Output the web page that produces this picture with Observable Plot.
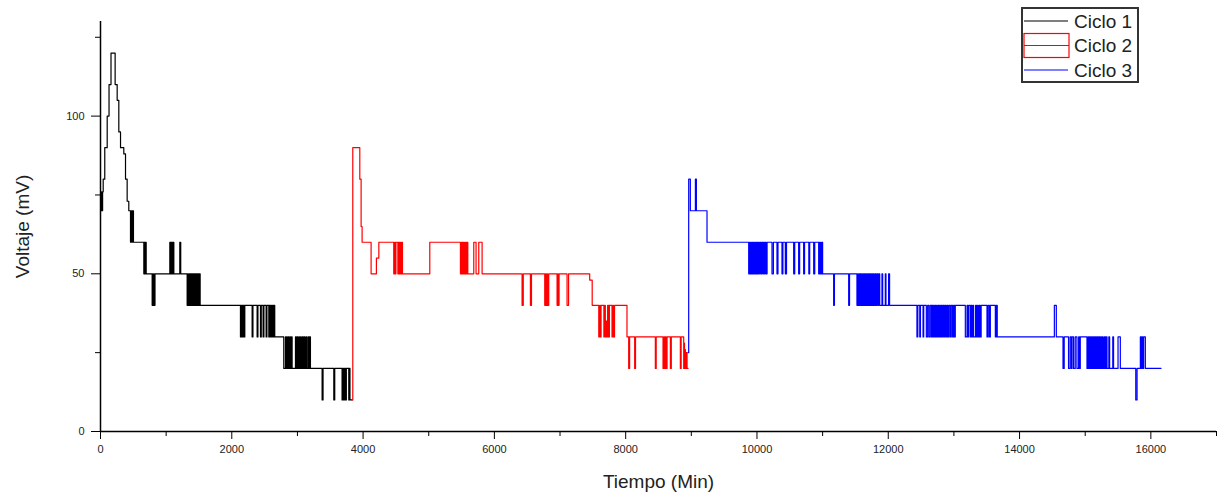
<!DOCTYPE html>
<html><head><meta charset="utf-8">
<script src="https://cdn.jsdelivr.net/npm/d3@7"></script>
<script src="https://cdn.jsdelivr.net/npm/@observablehq/plot@0.6"></script>
<style>
body{margin:0;background:#fff;font-family:"Liberation Sans",Arial,sans-serif;}
#wrap{position:relative;width:1220px;height:500px;}
#legend{position:absolute;left:1021px;top:7px;}
</style></head><body><div id="wrap"><div id="legend"></div></div>
<script>
// Series names and colours
const seriesNames = ["Ciclo 1", "Ciclo 2", "Ciclo 3"];
const seriesColors = ["#000000", "#ff0000", "#0000ff"];

// Axis ticks
const xTicks = [0, 2000, 4000, 6000, 8000, 10000, 12000, 14000, 16000];
const xMinor = [1000, 3000, 5000, 7000, 9000, 11000, 13000, 15000, 17000];
const yTicks = [0, 50, 100];
const yMinor = [25, 75, 125];

// [tiempo (min), voltaje (mV)] change points (step-after)
const ciclo1 = [
[0,75],[8,70],[16,76],[24,70],[32,76],[41,80],[65,90],[102,100],[130,110],[160,120],[223,110],[254,105],[279,95],[305,90],[355,88],[381,80],[406,73],[431,70],[457,60],[465,70],[472,60],[480,70],[488,60],[495,70],[502,60],
[660,50],[666,60],[672,50],[678,60],[684,50],[690,60],[696,50],
[787,40],[796,50],[802,40],[812,50],[818,40],[830,50],
[1056,60],[1065,50],[1072,60],[1085,50],[1095,60],[1105,50],[1110,60],[1117,50],
[1208,60],[1222,50],
[1320,40],[1330,50],[1340,40],[1350,50],[1358,40],[1366,50],[1374,40],[1382,50],[1390,40],[1398,50],[1406,40],[1414,50],[1422,40],[1430,50],[1438,40],[1446,50],[1454,40],[1462,50],[1470,40],[1478,50],[1486,40],[1494,50],[1502,40],[1510,50],[1518,40],
[2132,30],[2140,40],[2146,30],[2154,40],[2160,30],[2168,40],[2175,30],[2183,40],[2190,30],[2198,40],
[2310,30],[2322,40],[2386,30],[2398,40],[2437,30],[2449,40],[2477,30],[2489,40],[2523,30],[2535,40],[2564,30],[2574,40],[2582,30],[2592,40],[2600,30],[2610,40],[2618,30],[2628,40],[2636,30],[2646,40],[2654,30],
[2792,20],[2818,30],[2826,20],[2838,30],[2846,20],[2862,30],[2870,20],[2886,30],[2894,20],[2910,30],[2919,20],[2970,30],[2982,20],[2995,30],[3005,20],[3022,30],[3032,20],[3048,30],[3058,20],[3075,30],[3085,20],[3100,30],[3112,20],[3130,30],[3140,20],[3160,30],[3170,20],[3185,30],[3198,20],
[3376,10],[3390,20],[3554,10],[3568,20],[3680,10],[3690,20],[3698,10],[3708,20],[3716,10],[3726,20],[3735,10],[3745,20],[3782,10],[3790,20],[3800,10],[3833,10]
];

const ciclo2 = [
[3833,10],[3843,90],[3950,80],[3970,65],[3985,60],[4122,50],[4203,55],[4240,60],
[4467,50],[4480,60],[4490,50],[4500,60],[4530,50],[4540,60],[4548,50],[4556,60],[4564,50],[4572,60],[4580,50],[4590,60],[4600,50],
[5016,60],
[5483,50],[5492,60],[5500,50],[5508,60],[5516,50],[5524,60],[5532,50],[5545,60],[5555,50],[5565,60],[5575,50],[5585,60],[5595,50],
[5686,60],[5721,50],[5762,60],[5813,50],
[6422,40],[6440,50],[6549,40],[6565,50],[6767,40],[6780,50],[6790,40],[6800,50],[6810,40],[6828,50],[6955,40],[6965,50],[6972,40],[6985,50],[7107,40],[7130,50],
[7452,48],[7490,40],
[7590,30],[7605,40],[7612,30],[7625,40],[7668,30],[7680,40],[7690,30],[7700,35],[7712,30],[7725,40],[7740,30],[7752,40],[7792,30],[7805,40],[7815,30],[7830,40],
[8020,30],
[8046,20],[8060,30],[8137,20],[8150,30],[8452,20],[8465,30],[8569,20],[8580,30],[8590,20],[8600,30],[8615,20],[8630,30],[8681,20],[8695,30],[8833,20],[8845,30],[8884,20],[8890,28],[8896,20],[8902,26],[8910,20],[8920,25],[8935,20],[8950,20]
];

const ciclo3 = [
[8950,25],[8960,80],[8985,70],[9062,80],[9077,70],[9239,60],
[9874,50],[9885,60],[9895,50],[9905,60],[9915,50],[9925,60],[9935,50],[9945,60],[9955,50],[9965,60],[9975,50],[9985,60],[9995,50],[10005,60],[10015,50],[10025,60],[10040,50],[10050,60],[10065,50],[10075,60],[10090,50],[10100,60],[10115,50],[10125,60],[10140,50],[10154,60],
[10229,50],[10250,60],[10305,50],[10320,60],[10381,50],[10395,60],[10432,50],[10450,60],[10559,50],[10575,60],[10635,50],[10650,60],[10711,50],[10725,60],[10790,50],[10803,60],[10864,50],[10880,60],
[10940,50],[10950,60],[10960,50],[10970,60],[10980,50],[10990,60],[11000,50],
[11168,40],[11180,50],[11397,40],[11410,50],
[11523,40],[11533,50],[11543,40],[11553,50],[11563,40],[11573,50],[11583,40],[11593,50],[11603,40],[11613,50],[11623,40],[11633,50],[11643,40],[11653,50],[11663,40],[11673,50],[11683,40],[11693,50],[11703,40],[11713,50],[11723,40],[11733,50],[11743,40],[11753,50],[11763,40],[11773,50],[11783,40],[11798,50],[11810,40],[11825,50],[11840,40],[11855,50],[11870,40],
[11904,50],[11915,40],[11955,50],[11965,40],[12005,50],[12020,40],
[12437,30],[12450,40],[12480,30],[12490,40],[12530,30],[12540,40],[12580,30],[12600,40],[12620,30],[12640,40],[12660,30],[12670,40],[12680,30],[12690,40],[12700,30],[12712,40],[12724,30],[12736,40],[12748,30],[12760,40],[12772,30],[12784,40],[12796,30],[12808,40],[12820,30],[12832,40],[12850,30],[12862,40],[12880,30],[12895,40],[12910,30],[12925,40],[12945,30],[12960,40],[12980,30],[12995,40],[13010,30],[13021,40],
[13174,30],[13200,40],[13210,30],[13225,40],
[13250,30],[13265,40],[13275,30],[13290,40],[13300,30],[13330,40],[13345,30],[13360,40],[13370,30],[13385,40],[13400,30],[13415,40],
[13504,30],[13520,40],[13540,30],[13555,40],[13631,30],[13645,40],[13660,30],
[14530,40],[14560,30],
[14662,20],[14680,30],[14746,20],[14770,30],[14790,20],[14800,30],[14823,20],[14848,30],[14874,20],[14900,30],[14915,20],[14925,30],
[15027,20],[15040,30],[15052,20],[15065,30],[15078,20],[15090,30],[15100,20],[15112,30],[15125,20],[15138,30],[15150,20],[15160,30],[15172,20],[15185,30],[15198,20],[15210,30],[15222,20],[15235,30],[15248,20],[15260,30],[15272,20],[15290,30],[15305,20],[15320,30],[15332,20],[15360,30],[15372,20],[15420,30],[15432,20],[15500,30],[15535,20],
[15770,10],[15790,20],[15840,30],[15850,20],[15860,30],[15875,20],[15890,30],[15916,20],[16154,20]
];

const allSeries = [ciclo1, ciclo2, ciclo3];
const data = allSeries.flatMap((s, i) => s.map(([t, v]) => ({t, v, serie: seriesNames[i]})));

const font = '"Liberation Sans", Arial, sans-serif';

const chart = Plot.plot({
  width: 1220,
  height: 500,
  marginLeft: 100,
  marginRight: 4,
  marginTop: 21,
  marginBottom: 69,
  style: {fontFamily: font, background: "#fff", color: "#222"},
  x: {domain: [0, 17000]},
  y: {domain: [0, 130]},
  color: {domain: seriesNames, range: seriesColors},
  marks: [
    Plot.line(data, {x: "t", y: "v", z: "serie", stroke: "serie", curve: "step-after", strokeWidth: 1.2}),
    Plot.axisX({ticks: xTicks, tickSize: 8, tickPadding: 6, tickFormat: d => String(d), fontSize: 11, label: null, stroke: "#000"}),
    Plot.axisX({ticks: xMinor, tickSize: 5, tickFormat: () => "", label: null, stroke: "#000"}),
    Plot.axisY({ticks: yTicks, tickSize: 9, tickPadding: 7, tickFormat: d => String(d), fontSize: 11, label: null, stroke: "#000"}),
    Plot.axisY({ticks: yMinor, tickSize: 5, tickFormat: () => "", label: null, stroke: "#000"}),
    Plot.ruleY([0], {stroke: "#000", strokeWidth: 1.5}),
    Plot.ruleX([0], {stroke: "#000", strokeWidth: 1.5}),
    Plot.text(["Tiempo (Min)"], {frameAnchor: "bottom", dy: 56, fontSize: 19, fill: "#222"}),
    Plot.text(["Voltaje (mV)"], {frameAnchor: "left", textAnchor: "middle", dx: -78, rotate: -90, fontSize: 19, fill: "#222"})
  ]
});
document.getElementById("wrap").prepend(chart);

// Legend
const lg = d3.select("#legend").append("svg").attr("width", 118).attr("height", 76)
  .style("font-family", font);
lg.append("rect").attr("x", 1).attr("y", 1).attr("width", 116).attr("height", 74)
  .attr("fill", "#fff").attr("stroke", "#333").attr("stroke-width", 2);
seriesNames.forEach((name, i) => {
  const cy = 14 + i * 24.5;
  const g = lg.append("g");
  if (i === 1) {
    g.append("rect").attr("x", 3).attr("y", cy - 12).attr("width", 45).attr("height", 24)
      .attr("fill", "none").attr("stroke", seriesColors[i]).attr("stroke-width", 1.2);
    g.append("line").attr("x1", 3).attr("x2", 48).attr("y1", cy).attr("y2", cy)
      .attr("stroke", seriesColors[i]).attr("stroke-width", 1.2);
  } else {
    g.append("line").attr("x1", 3).attr("x2", 47).attr("y1", cy).attr("y2", cy)
      .attr("stroke", seriesColors[i]).attr("stroke-width", 1.2);
  }
  g.append("text").attr("x", 53).attr("y", cy).attr("dy", "0.36em")
    .attr("font-size", 19).attr("fill", "#222").text(name);
});
</script></body></html>
